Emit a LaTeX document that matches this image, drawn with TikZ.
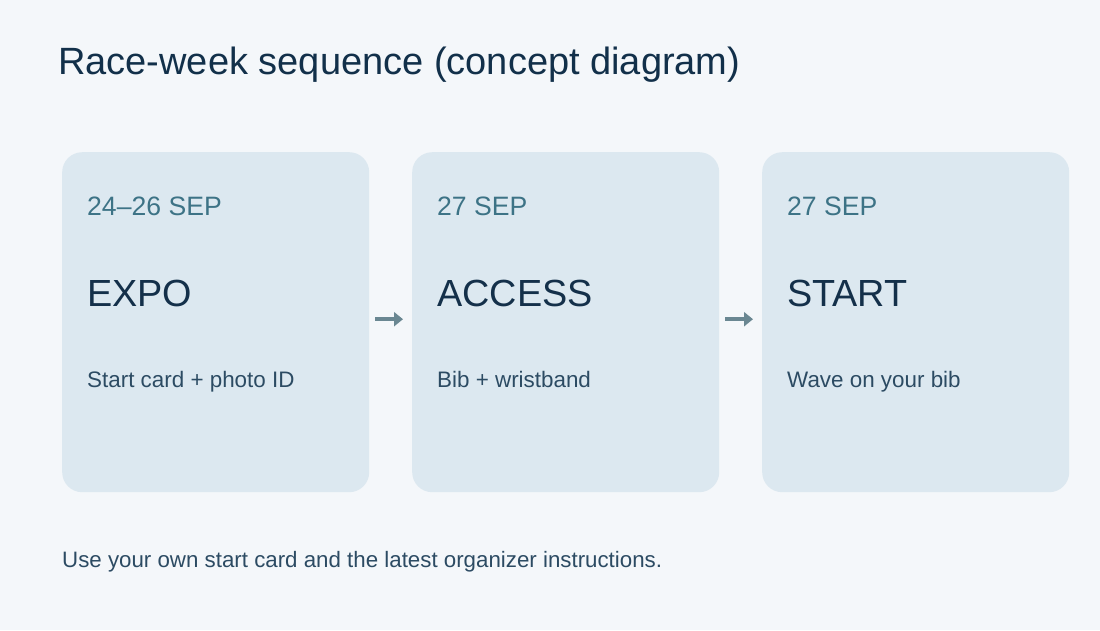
\documentclass[tikz,border=0pt]{standalone}
\usepackage{fontspec}
\setmainfont{Liberation Sans}
\usetikzlibrary{arrows.meta}
\definecolor{bg}{HTML}{F4F7FA}
\definecolor{cardfill}{HTML}{DCE8F0}
\definecolor{titlec}{HTML}{12304A}
\definecolor{datec}{HTML}{3D7386}
\definecolor{headc}{HTML}{14304A}
\definecolor{descc}{HTML}{2C4B63}
\definecolor{arrowc}{HTML}{6A8792}
\tikzset{
  card/.style={fill=cardfill, draw=none, rounded corners=20pt, minimum width=307pt, minimum height=340pt, inner sep=0pt, anchor=north west},
  datetxt/.style={anchor=base west, inner sep=0pt, text=datec, font=\fontsize{26.6}{32}\selectfont},
  headtxt/.style={anchor=base west, inner sep=0pt, text=headc, font=\fontsize{37.8}{44}\selectfont},
  desctxt/.style={anchor=base west, inner sep=0pt, text=descc, font=\fontsize{22.4}{27}\selectfont},
  flowarrow/.style={draw=arrowc, line width=4.5pt, -{Triangle[length=9pt,width=14pt]}}
}
\begin{document}
\begin{tikzpicture}[x=1pt,y=-1pt]
\path[fill=bg] (0,0) rectangle (1100,630);
\useasboundingbox (0,0) rectangle (1100,630);
\node[anchor=base west, inner sep=0pt, text=titlec, font=\fontsize{38}{46}\selectfont] (title) at (58,74) {Race-week sequence (concept diagram)};
\node[card] (c1) at (62,152) {};
\node[card] (c2) at (412,152) {};
\node[card] (c3) at (762,152) {};
\node[datetxt] (d1) at (87,215) {24–26 SEP};
\node[datetxt] (d2) at (437,215) {27 SEP};
\node[datetxt] (d3) at (787,215) {27 SEP};
\node[headtxt] (h1) at (87,306) {EXPO};
\node[headtxt] (h2) at (437,306) {ACCESS};
\node[headtxt] (h3) at (787,306) {START};
\node[desctxt] (t1) at (87,387) {Start card + photo ID};
\node[desctxt] (t2) at (437,387) {Bib + wristband};
\node[desctxt] (t3) at (787,387) {Wave on your bib};
\draw[flowarrow] ([xshift=6pt,yshift=3pt]c1.east) -- ([xshift=-9pt,yshift=3pt]c2.west);
\draw[flowarrow] ([xshift=6pt,yshift=3pt]c2.east) -- ([xshift=-9pt,yshift=3pt]c3.west);
\node[anchor=base west, inner sep=0pt, text=descc, font=\fontsize{22.3}{27}\selectfont] (foot) at (62,567) {Use your own start card and the latest organizer instructions.};
\end{tikzpicture}
\end{document}
